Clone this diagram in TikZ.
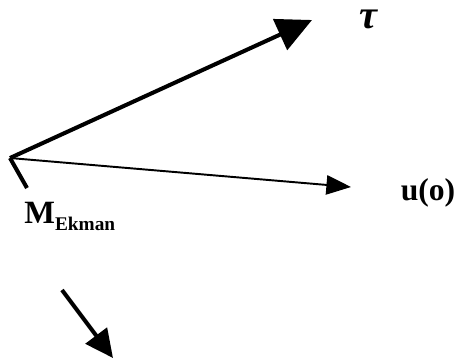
\documentclass[tikz,border=0pt]{standalone}
\usepackage{fontspec}
\setmainfont{Liberation Serif}
\usepackage{tikz}
\usetikzlibrary{arrows.meta}
\tikzstyle{thickarrow} = [line width=2.3pt,-{Triangle[length=20pt,width=19pt]}]
\tikzstyle{thinarrow} = [line width=1.1pt,-{Triangle[length=14pt,width=11pt]}]
\tikzstyle{lbl} = [inner sep=0pt, font=\bfseries]

\begin{document}
\begin{tikzpicture}[x=0.02cm, y=-0.02cm]
                        \useasboundingbox (0,0) rectangle (463,360);
                        \coordinate (origin) at (10,158);
                        \coordinate (tautip) at (312,20);
                        \coordinate (utip) at (351,187);
                        \coordinate (ekgap1) at (27,188);
                        \coordinate (ekgap2) at (62,290);
                        \coordinate (ektip) at (113,358);
                        \draw [thickarrow] (origin) -- (tautip);
                        \draw [thinarrow] (origin) -- (utip);
                        \draw [line width=2.3pt] (origin) -- (ekgap1);
                        \draw [thickarrow, -{Triangle[length=16pt,width=15pt]}] (ekgap2) -- (ektip);
                        \node (tau) [lbl] at (368,19) {\fontsize{23}{23}\selectfont\itshape τ};
                        \node (u) [lbl] at (428,193) {\fontsize{18}{18}\selectfont u(o)};
                        \node (mek) [lbl, anchor=base west] at (24,223) {\fontsize{18.5}{18.5}\selectfont M\raisebox{-4pt}{\fontsize{11}{11}\selectfont Ekman}};
                    \end{tikzpicture}
\end{document}
